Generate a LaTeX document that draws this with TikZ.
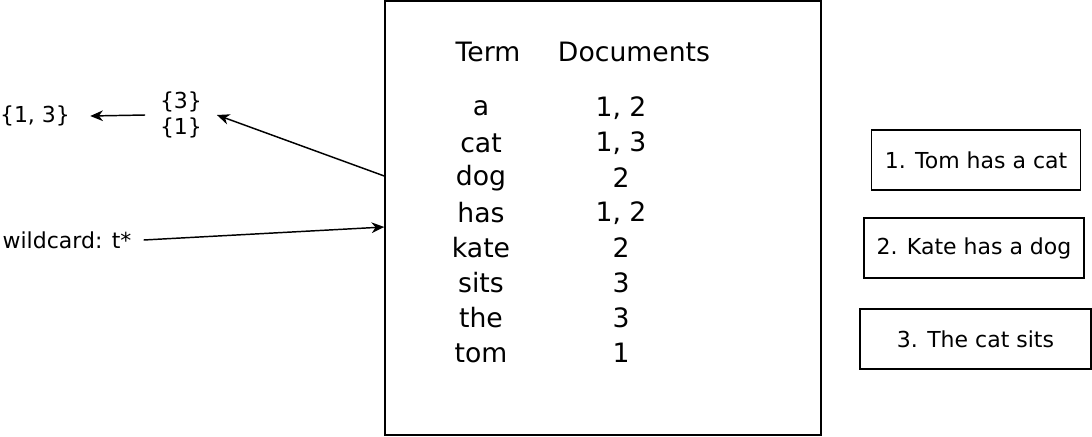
\documentclass[tikz,border=0pt]{standalone}
\usepackage{fontspec}
\setmainfont{DejaVu Sans}
\usetikzlibrary{arrows.meta}

\begin{document}
\begin{tikzpicture}[
			x=0.75pt, y=-0.75pt,
			small/.style={font=\fontsize{16.5}{20}\selectfont, align=center},
			big/.style={font=\fontsize{20}{26.25}\selectfont},
			docbox/.style={small, draw, line width=0.9pt, minimum height=45pt},
			link/.style={-{Stealth[length=9.5pt,width=8pt,inset=3pt]}, line width=1.1pt}
		]
		\useasboundingbox (0,0) rectangle (1092,436);
		% index table
		\node[draw, line width=1.1pt, inner sep=0pt, minimum width=327pt, minimum height=325.5pt] (index) at (603,218) {};
		\node[big] (term) at (488,52) {Term};
		\node[big] (docs) at (634,52) {Documents};
		\foreach \t/\d [count=\i] in {a/{1, 2},cat/{1, 3},dog/2,has/{1, 2},kate/2,sits/3,the/3,tom/1} {
				\node[big] (t\i) at (481,73+35*\i) {\t};
				\node[big] (d\i) at (621,73+35*\i) {\d};
			}
		% query side
		\node[small, inner xsep=11pt] (hits) at (181,115) {\{3\}\\\{1\}};
		\node[small, inner xsep=15pt] (union) at (35,116) {\{1, 3\}};
		\node[small, inner xsep=9pt] (query) at (67,240) {wildcard: t*};
		\draw[link] (query.east) -- ([yshift=-6.75pt]index.west);
		\draw[link] ([yshift=31.5pt]index.west) -- (hits.east);
		\draw[link] ([xshift=0pt]hits.west) -- (union.east);
		% documents
		\node[docbox, minimum width=156.75pt] (doc1) at (976,160) {1. Tom has a cat};
		\node[docbox, minimum width=165pt] (doc2) at (974,248) {2. Kate has a dog};
		\node[docbox, minimum width=173.25pt] (doc3) at (975.5,339) {3. The cat sits};
	\end{tikzpicture}
\end{document}
